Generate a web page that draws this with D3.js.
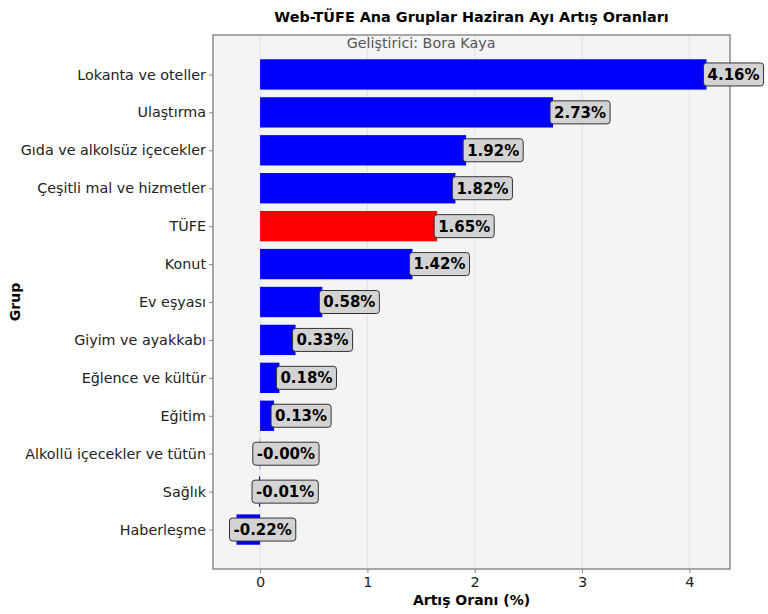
<!DOCTYPE html>
<html>
<head>
<meta charset="utf-8">
<script src="https://cdn.jsdelivr.net/npm/d3@7"></script>
<style>
  body { margin: 0; background: #fff; }
  text { font-family: "DejaVu Sans", sans-serif; }
</style>
</head>
<body>
<div id="chart"></div>
<script>
// data
var groups = ["Lokanta ve oteller", "Ulaştırma", "Gıda ve alkolsüz içecekler",
  "Çeşitli mal ve hizmetler", "TÜFE", "Konut", "Ev eşyası", "Giyim ve ayakkabı",
  "Eğlence ve kültür", "Eğitim", "Alkollü içecekler ve tütün", "Sağlık", "Haberleşme"];
var rates = [4.16, 2.73, 1.92, 1.82, 1.65, 1.42, 0.58, 0.33, 0.18, 0.13, -0.003, -0.01, -0.22];
var xTicks = [0, 1, 2, 3, 4];

var W = 768, H = 614;
var plotLeft = 213, plotRight = 730, plotTop = 35, plotBottom = 569;

var svg = d3.select('#chart').append('svg')
  .attr('width', W).attr('height', H);

var xMin = d3.min(rates), xMax = d3.max(rates);
var pad = (xMax - xMin) * 0.05;
var x = d3.scaleLinear().domain([xMin - pad, xMax + pad]).range([plotLeft, plotRight]);

// matplotlib like y limits: bars from -0.4 to n-0.6, margin 5%
var n = groups.length;
var span = n - 0.2;
var y = d3.scaleLinear().domain([-0.4 - span * 0.05, n - 0.6 + span * 0.05]).range([plotTop, plotBottom]);

svg.append('rect')
  .attr('x', plotLeft).attr('y', plotTop)
  .attr('width', plotRight - plotLeft).attr('height', plotBottom - plotTop)
  .attr('fill', '#f4f4f4');

// grid
svg.append('g').selectAll('line').data(xTicks).enter().append('line')
  .attr('x1', function(d) { return x(d); }).attr('x2', function(d) { return x(d); })
  .attr('y1', plotTop).attr('y2', plotBottom)
  .attr('stroke', '#dcdcdc').attr('stroke-width', 0.8);

// bars
svg.append('g').selectAll('rect').data(rates).enter().append('rect')
  .attr('x', function(d) { return x(Math.min(0, d)); })
  .attr('y', function(d, i) { return y(i - 0.4); })
  .attr('width', function(d) { return Math.abs(x(d) - x(0)); })
  .attr('height', function(d, i) { return y(i + 0.4) - y(i - 0.4); })
  .attr('fill', function(d, i) { return groups[i] === 'TÜFE' ? '#ff0000' : '#0000ff'; });

// frame
svg.append('rect')
  .attr('x', plotLeft).attr('y', plotTop)
  .attr('width', plotRight - plotLeft).attr('height', plotBottom - plotTop)
  .attr('fill', 'none').attr('stroke', '#8c8c8c').attr('stroke-width', 1.5);

// x axis
var xAxis = svg.append('g').attr('transform', 'translate(0,' + plotBottom + ')')
  .call(d3.axisBottom(x).tickValues(xTicks).tickFormat(d3.format('d')).tickSize(4).tickPadding(4));
xAxis.select('.domain').remove();
xAxis.selectAll('line').attr('stroke', '#888');
xAxis.selectAll('text').attr('font-size', 14.5).attr('fill', '#222')
  .style('font-family', '"DejaVu Sans", sans-serif');

// y axis
var yAxis = svg.append('g').attr('transform', 'translate(' + plotLeft + ',0)')
  .call(d3.axisLeft(y).tickValues(d3.range(n)).tickFormat(function(i) { return groups[i]; })
    .tickSize(4).tickPadding(3));
yAxis.select('.domain').remove();
yAxis.selectAll('line').attr('stroke', '#888');
yAxis.selectAll('text').attr('font-size', 14.3).attr('fill', '#222')
  .style('font-family', '"DejaVu Sans", sans-serif');

// value labels
var labels = svg.append('g').selectAll('g').data(rates).enter().append('g');
labels.each(function(d, i) {
  var g = d3.select(this);
  var tx = d < 0 ? x(d) - 3 : x(d) + 1;
  var t = g.append('text')
    .attr('x', tx).attr('y', y(i))
    .attr('dy', '0.36em')
    .attr('font-size', 15).attr('font-weight', 'bold').attr('fill', '#000')
    .text(d.toFixed(2) + '%');
  var bb = t.node().getBBox();
  g.insert('rect', 'text')
    .attr('x', bb.x - 4).attr('y', y(i) - 11.5)
    .attr('width', bb.width + 8).attr('height', 23)
    .attr('rx', 3).attr('ry', 3)
    .attr('fill', '#d3d3d3').attr('stroke', '#333').attr('stroke-width', 1);
});

// texts
svg.append('text')
  .attr('x', (plotLeft + plotRight) / 2).attr('y', 22)
  .attr('text-anchor', 'middle')
  .attr('font-size', 14.4).attr('font-weight', 'bold')
  .text('Web-TÜFE Ana Gruplar Haziran Ayı Artış Oranları');

svg.append('text')
  .attr('x', x(1.5)).attr('y', 48)
  .attr('text-anchor', 'middle')
  .attr('font-size', 14.3).attr('fill', '#555')
  .text('Geliştirici: Bora Kaya');

svg.append('text')
  .attr('x', (plotLeft + plotRight) / 2).attr('y', 605)
  .attr('text-anchor', 'middle')
  .attr('font-size', 14).attr('font-weight', 'bold')
  .text('Artış Oranı (%)');

svg.append('text')
  .attr('transform', 'translate(20,' + (plotTop + plotBottom) / 2 + ') rotate(-90)')
  .attr('text-anchor', 'middle')
  .attr('font-size', 14).attr('font-weight', 'bold')
  .text('Grup');
</script>
</body>
</html>
